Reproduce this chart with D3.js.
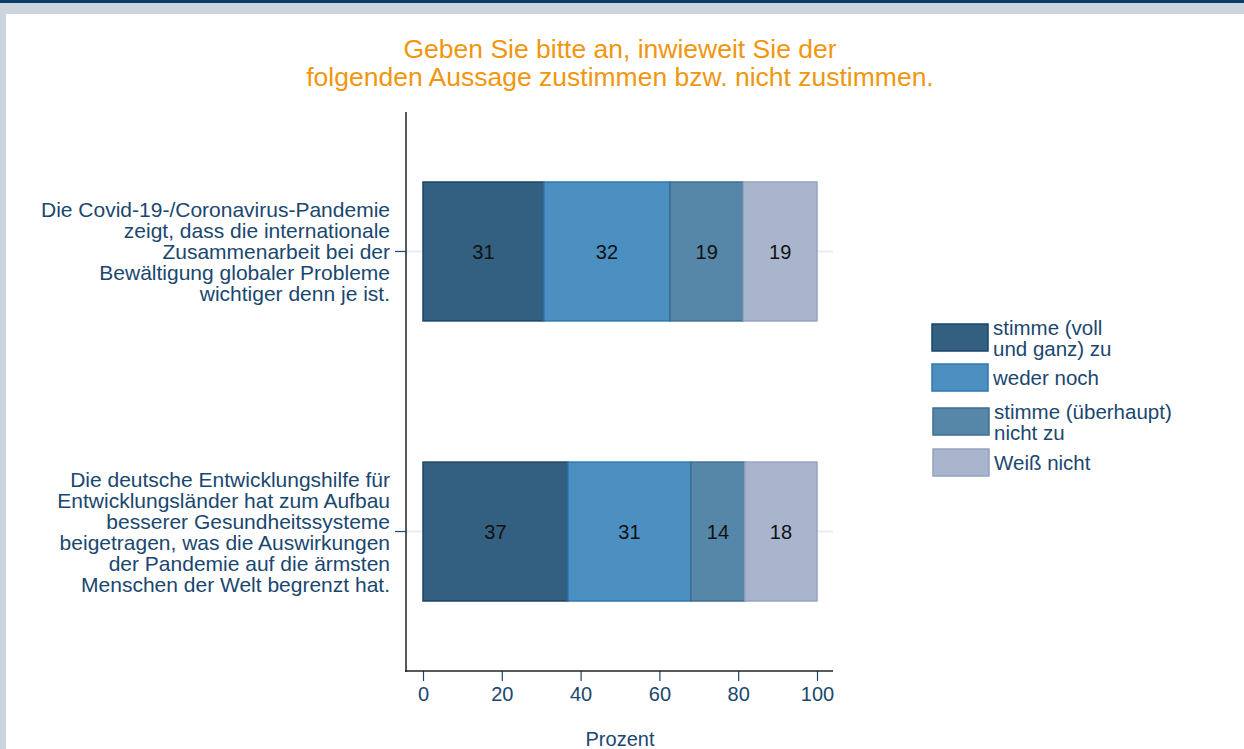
<!DOCTYPE html>
<html>
<head>
<meta charset="utf-8">
<script src="https://cdn.jsdelivr.net/npm/d3@7"></script>
<style>
  body { margin: 0; background: #fff; }
  svg { display: block; font-family: "Liberation Sans", Arial, sans-serif; }
</style>
</head>
<body>
<svg id="chart" width="1244" height="749"></svg>
<script>
const titleLines = ["Geben Sie bitte an, inwieweit Sie der", "folgenden Aussage zustimmen bzw. nicht zustimmen."]
const questions = [
    ["Die Covid-19-/Coronavirus-Pandemie", "zeigt, dass die internationale", "Zusammenarbeit bei der", "Bewältigung globaler Probleme", "wichtiger denn je ist."],
    ["Die deutsche Entwicklungshilfe für", "Entwicklungsländer hat zum Aufbau", "besserer Gesundheitssysteme", "beigetragen, was die Auswirkungen", "der Pandemie auf die ärmsten", "Menschen der Welt begrenzt hat."]
]
const answers = [["stimme (voll", "und ganz) zu"], ["weder noch"], ["stimme (überhaupt)", "nicht zu"], ["Weiß nicht"]]
const values = [
    [30.7, 32.0, 18.6, 18.7],
    [36.8, 31.2, 13.7, 18.3]
]
const xTicks = [0, 20, 40, 60, 80, 100]
const fills = ["#335f80", "#4c90c2", "#5687a8", "#a9b5cd"]
const strokes = ["#1b4567", "#2f77b0", "#3e6e93", "#94a3c2"]
const navy = "#1a476f"

const svg = d3.select("#chart")

// frame bands
svg.append("rect").attr("x", 0).attr("y", 0).attr("width", 1244).attr("height", 14).attr("fill", "#ccd5de")
svg.append("rect").attr("x", 0).attr("y", 0).attr("width", 1244).attr("height", 3).attr("fill", "#0b3d66")
svg.append("rect").attr("x", 0).attr("y", 3).attr("width", 6).attr("height", 746).attr("fill", "#ccd5de")

const x = d3.scaleLinear().domain([0, 100]).range([423, 817])
const y = d3.scaleBand().domain(d3.range(questions.length)).range([112, 671])
    .paddingInner(0.504).paddingOuter(0.25)

// title
svg.append("g").selectAll("text")
    .data(titleLines)
    .join("text")
    .attr("x", 620)
    .attr("y", (d, i) => 58 + i * 28)
    .attr("text-anchor", "middle")
    .attr("fill", "#f0960f")
    .attr("font-size", 26.5)
    .text(d => d)

// gridlines
svg.append("g").selectAll("line")
    .data(questions.map((q, i) => i))
    .join("line")
    .attr("x1", 406).attr("x2", 833)
    .attr("y1", d => y(d) + y.bandwidth() / 2)
    .attr("y2", d => y(d) + y.bandwidth() / 2)
    .attr("stroke", "#e6eef2").attr("stroke-width", 2)

// stacked bars
const rows = values.map((v, i) => {
    let acc = 0
    return v.map((val, k) => { const s = { row: i, k, x0: acc, x1: acc + val, val }; acc += val; return s })
})
const bars = svg.append("g").selectAll("g")
    .data(rows)
    .join("g")
bars.selectAll("rect")
    .data(d => d)
    .join("rect")
    .attr("x", d => x(d.x0))
    .attr("width", d => x(d.x1) - x(d.x0))
    .attr("y", d => y(d.row))
    .attr("height", y.bandwidth())
    .attr("fill", d => fills[d.k])
    .attr("stroke", d => strokes[d.k])
    .attr("stroke-width", 1.5)
bars.selectAll("text")
    .data(d => d)
    .join("text")
    .attr("x", d => (x(d.x0) + x(d.x1)) / 2)
    .attr("y", d => y(d.row) + y.bandwidth() / 2)
    .attr("dy", "0.36em")
    .attr("text-anchor", "middle")
    .attr("font-size", 20)
    .attr("fill", "#111")
    .text(d => d3.format(".0f")(d.val))

// y axis
svg.append("line").attr("x1", 406).attr("x2", 406).attr("y1", 112).attr("y2", 672)
    .attr("stroke", "#222").attr("stroke-width", 1.5)
svg.append("g").selectAll("line")
    .data(questions.map((q, i) => i))
    .join("line")
    .attr("x1", 395).attr("x2", 406)
    .attr("y1", d => y(d) + y.bandwidth() / 2)
    .attr("y2", d => y(d) + y.bandwidth() / 2)
    .attr("stroke", navy).attr("stroke-width", 1.2)

const qLabels = svg.append("g").selectAll("text")
    .data(questions)
    .join("text")
    .attr("text-anchor", "end")
    .attr("font-size", 21)
    .attr("fill", navy)
qLabels.selectAll("tspan")
    .data((d, i) => d.map((line, j) => ({ line, j, n: d.length, i })))
    .join("tspan")
    .attr("x", 390)
    .attr("y", d => y(d.i) + y.bandwidth() / 2 + (d.j - (d.n - 1) / 2) * 21)
    .attr("dy", "0.36em")
    .text(d => d.line)

// x axis
const xAxis = g => g
    .attr("transform", "translate(0,671)")
    .call(d3.axisBottom(x).tickValues(xTicks).tickSize(10).tickPadding(6))
    .call(g => g.select(".domain").remove())
    .call(g => g.selectAll(".tick line").attr("stroke", navy).attr("stroke-width", 1.2))
    .call(g => g.selectAll(".tick text").attr("fill", navy).attr("font-size", 20)
        .attr("font-family", "Liberation Sans, Arial, sans-serif"))
svg.append("g").call(xAxis)
svg.append("line").attr("x1", 405).attr("x2", 833).attr("y1", 671).attr("y2", 671)
    .attr("stroke", "#222").attr("stroke-width", 1.5)

svg.append("text")
    .attr("x", 620).attr("y", 746)
    .attr("text-anchor", "middle")
    .attr("font-size", 20)
    .attr("fill", navy)
    .text("Prozent")

// legend
const legendBox = [{ x: 932, y: 324 }, { x: 932, y: 364 }, { x: 933, y: 408 }, { x: 933, y: 449 }]
const legend = svg.append("g").selectAll("g")
    .data(answers)
    .join("g")
    .attr("transform", (d, i) => `translate(${legendBox[i].x},${legendBox[i].y})`)
legend.append("rect")
    .attr("x", 0).attr("y", 0).attr("width", 56).attr("height", 27)
    .attr("fill", (d, i) => fills[i])
    .attr("stroke", (d, i) => strokes[i])
    .attr("stroke-width", 1.5)
legend.append("text")
    .attr("font-size", 20.5)
    .attr("fill", navy)
    .selectAll("tspan")
    .data(d => d.map((line, j) => ({ line, j, n: d.length })))
    .join("tspan")
    .attr("x", 61)
    .attr("y", d => 14 + (d.j - (d.n - 1) / 2) * 21)
    .attr("dy", "0.36em")
    .text(d => d.line)
</script>
</body>
</html>
